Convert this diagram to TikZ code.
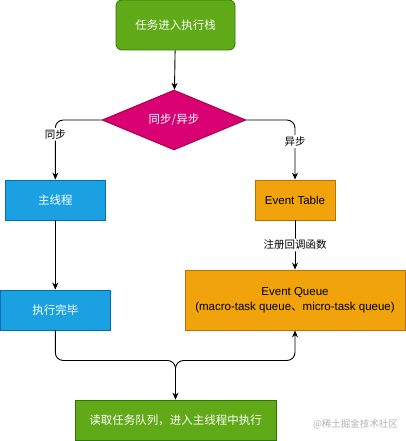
\documentclass[tikz,border=0pt]{standalone}
\usepackage{fontspec}
\setmainfont{Liberation Sans}
\newfontfamily\cjk{Noto Sans CJK SC}
\usetikzlibrary{arrows.meta,shapes.geometric}
\definecolor{flowgreen}{HTML}{60A917}
\definecolor{flowgreenline}{HTML}{2D7600}
\definecolor{flowpink}{HTML}{D80073}
\definecolor{flowpinkline}{HTML}{A50040}
\definecolor{flowblue}{HTML}{1BA1E2}
\definecolor{flowblueline}{HTML}{006EAF}
\definecolor{floworange}{HTML}{F0A30A}
\definecolor{floworangeline}{HTML}{BD7000}

\begin{document}
\begin{tikzpicture}[x=1pt,y=-1pt,>={Stealth[length=7pt,width=6pt]},
  every node/.style={inner sep=0pt},
  box/.style={draw,line width=0.8pt,minimum height=40,align=center,font=\fontsize{11.5}{15.5}\selectfont},
  greenbox/.style={box,fill=flowgreen,draw=flowgreenline,text=white},
  bluebox/.style={box,fill=flowblue,draw=flowblueline,text=white},
  orangebox/.style={box,fill=floworange,draw=floworangeline,text=black},
  lbl/.style={fill=white,inner sep=1.5pt,font=\cjk\fontsize{10.5}{12}\selectfont},
  edge/.style={line width=0.9pt,rounded corners=8}]
  \useasboundingbox[fill=white] (0,0) rectangle (406,441);
  % nodes
  \node[greenbox,rounded corners=6,minimum width=119,minimum height=50] (start) at (175.5,25) {\cjk 任务进入执行栈};
  \node[diamond,aspect=2.4,fill=flowpink,draw=flowpinkline,line width=0.8pt,text=white,
        minimum width=144,minimum height=60,font=\cjk\fontsize{11.5}{14}\selectfont] (decide) at (174,120) {同步/异步};
  \node[bluebox,minimum width=100] (main) at (55.3,200) {\cjk 主线程};
  \node[orangebox,minimum width=80] (table) at (295,200) {Event Table};
  \node[bluebox,minimum width=110] (exec) at (55.3,310) {\cjk 执行完毕};
  \node[orangebox,minimum width=220,minimum height=60] (queue) at (295,300) {Event Queue\\(macro-task queue{\cjk 、}micro-task queue)};
  \node[greenbox,minimum width=201] (read) at (175.5,420) {\cjk 读取任务队列，进入主线程中执行};
  \node[text=black!30,font=\cjk\fontsize{9.5}{11}\selectfont] (mark) at (355.5,424) {@稀土掘金技术社区};
  \coordinate (merge) at (175.5,360.5);
  \coordinate (split) at (175.5,375);
  % connectors
  \draw[edge,->] (start) -- (decide);
  \draw[edge,->] (decide.west) -| (main.north) node[pos=0.62,lbl] {同步};
  \draw[edge,->] (decide.east) -| (table.north) node[pos=0.68,lbl] {异步};
  \draw[edge,->] (main) -- (exec);
  \draw[edge,->] (table) -- (queue) node[midway,lbl] {注册回调函数};
  \draw[edge,->] (exec.south) |- (merge) -- (read.north);
  \draw[edge,->] (split) -- (merge) -| (queue.south);
\end{tikzpicture}
\end{document}
